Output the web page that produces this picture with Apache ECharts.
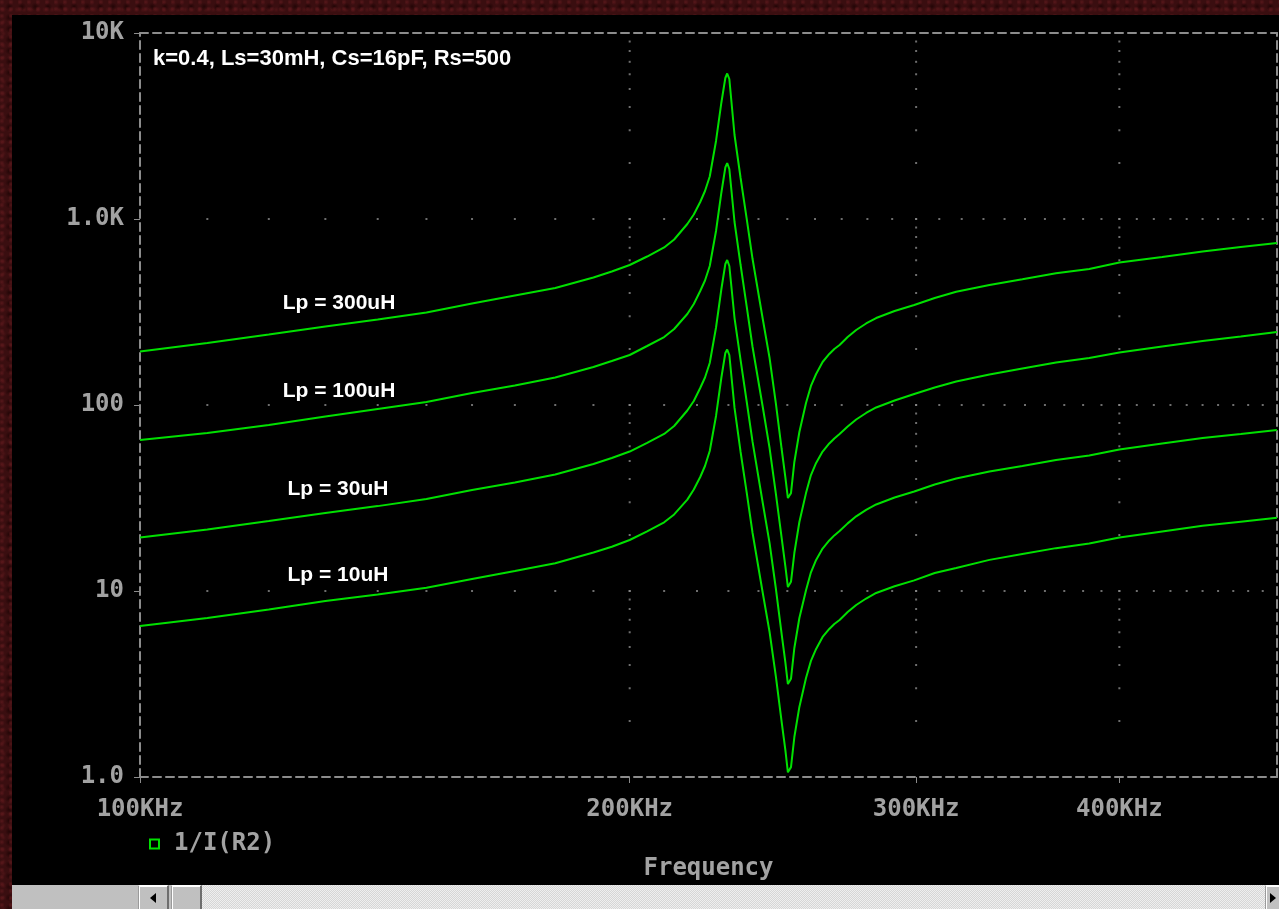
<!DOCTYPE html>
<html><head><meta charset="utf-8">
<script src="https://cdn.jsdelivr.net/npm/echarts@6/dist/echarts.min.js"></script>
<style>
html,body{margin:0;padding:0;width:1279px;height:909px;overflow:hidden;}
body{background-color:#3a0e10;
background-image:
radial-gradient(circle at 20% 30%, rgba(110,30,35,0.55) 0, rgba(0,0,0,0) 3px),
radial-gradient(circle at 70% 60%, rgba(20,0,0,0.6) 0, rgba(0,0,0,0) 4px),
radial-gradient(circle at 45% 80%, rgba(95,25,28,0.5) 0, rgba(0,0,0,0) 3px);
background-size:9px 7px, 13px 11px, 7px 12px;}
#panel{position:absolute;left:12px;top:15px;width:1267px;height:870px;background:#000;}
#chart{position:absolute;left:0;top:0;width:1279px;height:909px;}
#sbar{position:absolute;left:12px;top:885px;width:1267px;height:24px;background:#c0c0c0;}
.btn{position:absolute;top:0;background:#c0c0c0;border-left:1px solid #9a9a9a;border-top:1px solid #fff;border-right:2px solid #6e6e6e;box-shadow:inset 1px 1px 0 #ffffff;box-sizing:border-box;height:24px;}
#track{position:absolute;left:190px;top:0;width:1063px;height:24px;
background:repeating-conic-gradient(#efefef 0% 25%, #d6d6d6 0% 50%) 0 0/2px 2px;}
.arrL{position:absolute;left:11px;top:7px;width:0;height:0;border-top:5px solid transparent;border-bottom:5px solid transparent;border-right:6px solid #000;}
.arrR{position:absolute;left:4px;top:7px;width:0;height:0;border-top:5px solid transparent;border-bottom:5px solid transparent;border-left:6px solid #000;}
</style></head><body>
<div id="panel"></div>
<div id="chart"></div>
<div id="sbar">
  <div class="btn" style="left:126px;width:31px;"><div class="arrL"></div></div>
  <div class="btn" style="left:159px;width:31px;"></div>
  <div id="track"></div>
  <div class="btn" style="left:1253px;width:16px;"><div class="arrR"></div></div>
</div>
<script>
// ---- data (frequency in KHz, value of 1/I(R2)) ----
const freqKHz = [100,110,120,130,140,150,160,170,180,190,
  195,200,205,210,213,217,219,221,222.5,224,
  226,227.7,229,229.6,230.3,232,234,236,238,241.4,
  243.8,246,248,249.3,250.2,251.3,252.5,254.3,256.7,258.5,
  260.4,262.8,265.3,267.2,269.2,272.3,275.6,279.5,283.5,291,
  299.2,308,317.5,332.8,348.7,365.7,383.3,400,425,450,
  475,500];
const lp300 = [194.0,215.4,239.3,264.3,288.3,314.4,351.3,387.9,425.6,484.8,
  522.2,565.7,628.5,702.8,775.9,940,1057,1234,1414,1692,
  2627,4205,5729,6057,5658,2829,1661,1012,609.3,293.5,
  178.9,101.3,58.0,41.0,31.6,33.6,49.4,71.6,102.5,126.6,
  146.8,170.3,188.1,200.0,210.2,232.0,253.1,274.3,293.5,320.3,
  344.9,376.1,406.5,441.8,474.1,510.7,538.4,583.6,624.6,668.9,
  707.2,743.1];
const lp100 = [64.8,70.7,78.1,86.8,95.2,103.8,116.0,127.3,140.5,160.1,
  172.4,185.7,207.6,232.0,256.3,308.5,349.1,410.2,467.1,558.7,
  862,1380,1892,2000,1857,963.6,565.7,340.7,205.0,98.8,
  58.7,33.2,19.3,13.6,10.5,11.2,16.0,23.5,33.6,42.0,
  48.8,56.2,62.1,66.1,69.9,76.6,83.6,90.6,97.0,105.7,
  114.6,124.2,133.8,145.9,157.1,169.2,178.9,191.6,206.3,220.9,
  233.5,246.9];
const lp30 = [19.4,21.4,23.8,26.3,28.6,31.2,34.9,38.3,42.3,48.2,
  51.9,56.2,62.5,69.9,77.1,93.4,105.1,123.4,140.5,168.2,
  261.0,417.8,573.0,602.1,558.7,293.5,174.5,105.1,63.3,30.1,
  18.1,10.25,5.87,4.15,3.16,3.37,4.94,7.16,10.1,12.6,
  14.7,16.9,18.7,19.9,21.0,23.1,25.2,27.3,29.2,31.8,
  34.3,37.4,40.3,43.9,47.0,50.6,53.5,57.7,62.1,66.5,
  69.9,73.4];
const lp10 = [6.48,7.16,7.95,8.84,9.58,10.4,11.6,12.8,14.1,16.1,
  17.3,18.8,20.9,23.4,25.8,31.0,35.1,41.0,47.0,56.6,
  87.3,139.7,190.4,198.7,185.7,96.4,55.9,34.1,20.5,9.88,
  6.02,3.45,1.98,1.40,1.06,1.13,1.64,2.38,3.41,4.21,
  4.88,5.66,6.25,6.65,6.99,7.71,8.41,9.11,9.76,10.6,
  11.4,12.5,13.3,14.7,15.8,17.0,18.0,19.4,20.9,22.4,
  23.6,24.8];
const seriesName = '1/I(R2)';
const curveLabels = ['Lp = 300uH','Lp = 100uH','Lp = 30uH','Lp = 10uH'];
const noteText = 'k=0.4, Ls=30mH, Cs=16pF, Rs=500';

// ---- axes / tick labels ----
const xTickValues = [100,200,300,400];
const xTickLabels = ['100KHz','200KHz','300KHz','400KHz'];
const yTickValues = [1,10,100,1000,10000];
const yTickLabels = ['1.0','10','100','1.0K','10K'];
const xGridValues = [200,300,400];
const yGridValues = [10,100,1000];
const xMinorStep = 10;   // KHz between grid dots on horizontal grid lines

// ---- styling ----
const GREEN = '#00e000';
const GRAY = '#a2a2a2';
const FRAME = '#8c8c8c';
const MONO = '"DejaVu Sans Mono", "Liberation Mono", monospace';
const SANS = '"Liberation Sans", Arial, sans-serif';

function pair(vals){ return freqKHz.map((f,i)=>[f, vals[i]]); }
function nearestLabel(v, vals, labels){
  let best=0, bd=Infinity;
  vals.forEach((t,i)=>{ const d=Math.abs(Math.log10(v)-Math.log10(t)); if(d<bd){bd=d;best=i;} });
  return bd<1e-6 ? labels[best] : '';
}
// grid dots along the dotted grid lines
const dots = [];
yGridValues.forEach(y=>{ for(let f=100+xMinorStep; f<500; f+=xMinorStep) dots.push([f,y]); });
xGridValues.forEach(x=>{ yTickValues.slice(0,-1).forEach(d=>{ for(let m=1;m<=9;m++){ if(d*m>1) dots.push([x,d*m]); } }); });

const chart = echarts.init(document.getElementById('chart'), null, {renderer:'canvas'});
const dashLine = {show:true, onZero:false, lineStyle:{color:FRAME, width:2, type:[8,5]}};
const curves = [lp300, lp100, lp30, lp10];
const labelFont = {color:GRAY, fontFamily:MONO, fontSize:24, fontWeight:'bold'};
const annot = (text, x, y, size, align) => ({type:'text', x:x, y:y, silent:true,
  style:{text:text, fill:'#ffffff', font:'bold '+size+'px '+SANS, align:align, verticalAlign:'middle', textAlign:align, textVerticalAlign:'middle'}});
chart.setOption({
  backgroundColor:'transparent',
  animation:false,
  grid:{left:140, top:33, width:1137, height:744},
  legend:{
    left:144, top:827, itemWidth:9, itemHeight:9,
    data:[{name:seriesName, icon:'rect', itemStyle:{color:'rgba(0,0,0,0)', borderColor:GREEN, borderWidth:2}}],
    textStyle:Object.assign({padding:[0,0,0,10]}, labelFont),
    selectedMode:false
  },
  xAxis:[{
    type:'log', logBase:10, min:100, max:500, position:'bottom',
    axisLine:dashLine,
    axisTick:{show:true, length:6, customValues:xTickValues, lineStyle:{color:FRAME, width:1}},
    axisLabel:Object.assign({customValues:xTickValues, margin:21,
      formatter:v=>nearestLabel(v, xTickValues, xTickLabels)}, labelFont),
    splitLine:{show:false}, minorTick:{show:false},
    name:'Frequency', nameLocation:'middle', nameGap:80,
    nameTextStyle:labelFont
  },{
    type:'log', logBase:10, min:100, max:500, position:'top',
    axisLine:dashLine, axisTick:{show:false}, axisLabel:{show:false}, splitLine:{show:false}
  }],
  yAxis:[{
    type:'log', logBase:10, min:1, max:10000, position:'left',
    axisLine:dashLine,
    axisTick:{show:true, length:6, lineStyle:{color:FRAME, width:1}},
    axisLabel:Object.assign({customValues:yTickValues, margin:16, padding:[4,0,0,0],
      formatter:v=>nearestLabel(v, yTickValues, yTickLabels)}, labelFont),
    splitLine:{show:false}
  },{
    type:'log', logBase:10, min:1, max:10000, position:'right',
    axisLine:dashLine, axisTick:{show:false}, axisLabel:{show:false}, splitLine:{show:false}
  }],
  graphic:[
    annot(noteText, 153, 59, 22, 'left'),
    annot(curveLabels[0], 339, 303, 21, 'center'),
    annot(curveLabels[1], 339, 391, 21, 'center'),
    annot(curveLabels[2], 338, 489, 21, 'center'),
    annot(curveLabels[3], 338, 575, 21, 'center')
  ],
  series:[
    {type:'scatter', name:'grid', data:dots, symbol:'rect', symbolSize:2, silent:true, z:1,
      itemStyle:{color:'#8a8a8a'}, xAxisIndex:0, yAxisIndex:0}
  ].concat(curves.map(c=>({
    type:'line', name:seriesName, data:pair(c), showSymbol:false, symbol:'none',
    lineStyle:{color:GREEN, width:2}, itemStyle:{color:GREEN}, z:3, xAxisIndex:0, yAxisIndex:0
  })))
});
</script>
</body></html>
